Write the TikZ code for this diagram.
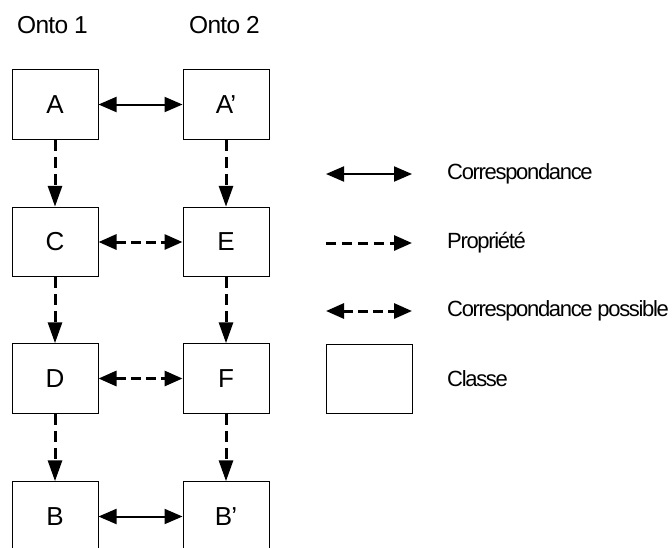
\documentclass[tikz,border=0pt]{standalone}
\usepackage{fontspec}
\setmainfont{Liberation Sans}
\usetikzlibrary{arrows.meta}

\newfontfamily\boxfont[LetterSpace=-3]{Liberation Sans}
\newfontfamily\legfont[LetterSpace=-6]{Liberation Sans}

\tikzset{
  classe/.style={draw, line width=1pt, minimum width=86pt, minimum height=69.5pt,
    inner sep=0pt, font=\boxfont\fontsize{26}{26}\selectfont},
  corresp/.style={line width=2pt, {Triangle[length=18pt,width=15pt]}-{Triangle[length=18pt,width=15pt]}},
  propr/.style={line width=3pt, dash pattern=on 11pt off 6pt, -{Triangle[length=21pt,width=14pt]}},
  possible/.style={line width=3pt, dash pattern=on 10pt off 5pt, {Triangle[length=18pt,width=15pt]}-{Triangle[length=18pt,width=15pt]}},
  legtext/.style={anchor=west, inner sep=0pt, font=\legfont\fontsize{22}{22}\selectfont},
}

\begin{document}
\begin{tikzpicture}[x=1pt,y=1pt,yscale=-1]
\useasboundingbox (0,0) rectangle (672,547);

% column titles
\node[anchor=base west, inner sep=0pt, font=\boxfont\fontsize{24.5}{24}\selectfont] (onto1) at (17,33) {Onto 1};
\node[anchor=base west, inner sep=0pt, font=\boxfont\fontsize{24.5}{24}\selectfont] (onto2) at (189,33) {Onto 2};

% classes of both ontologies
\node[classe] (a)  at (55,104.5) {A};
\node[classe] (a2) at (226,104.5) {A’};
\node[classe] (c)  at (55,242) {C};
\node[classe] (e)  at (226,242) {E};
\node[classe] (d)  at (55,378.5) {D};
\node[classe] (f)  at (226,378.5) {F};
\node[classe] (b)  at (55,516.5) {B};
\node[classe] (b2) at (226,516.5) {B’};

% properties
\draw[propr] (a) -- (c);
\draw[propr] (c) -- (d);
\draw[propr] (d) -- (b);
\draw[propr] (a2) -- (e);
\draw[propr] (e) -- (f);
\draw[propr] (f) -- (b2);

% correspondences
\draw[corresp] (a) -- (a2);
\draw[possible] (c) -- (e);
\draw[possible] (d) -- (f);
\draw[corresp] (b) -- (b2);

% legend
\coordinate (l1a) at (326,174);  \coordinate (l1b) at (412,174);
\coordinate (l2a) at (326,243);  \coordinate (l2b) at (412,243);
\coordinate (l3a) at (326,311);  \coordinate (l3b) at (412,311);
\draw[corresp] (l1a) -- (l1b);
\draw[propr, dash pattern=on 10pt off 6pt, -{Triangle[length=18pt,width=15pt]}] (l2a) -- (l2b);
\draw[possible] (l3a) -- (l3b);
\node[classe] (leg) at (369.5,379) {};

\node[legtext] (t1) at (447,174) {Correspondance};
\node[legtext] (t2) at (447,243) {Propriété};
\node[legtext] (t3) at (447,311) {Correspondance possible};
\node[legtext] (t4) at (447,379) {Classe};

\end{tikzpicture}
\end{document}
